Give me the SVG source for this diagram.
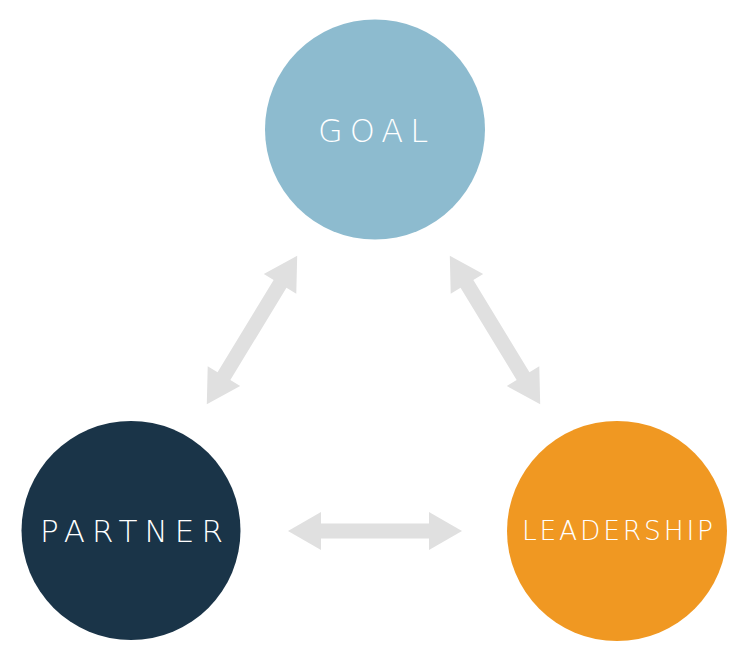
<svg xmlns="http://www.w3.org/2000/svg" xmlns:xlink="http://www.w3.org/1999/xlink" width="746" height="657" viewBox="0 0 746 657">
<style>
.lbl{font-family:"DejaVu Sans","Open Sans",sans-serif;font-weight:200;fill:#ffffff;text-anchor:start}
.arrow{fill:#e0e0e0}
</style>
<defs>
<path id="arr" d="M-87,0 L-54,-19 L-54,-7.5 L54,-7.5 L54,-19 L87,0 L54,19 L54,7.5 L-54,7.5 L-54,19 Z"/>
</defs>
<rect width="746" height="657" fill="#ffffff"/>
<g id="connectors">
<use xlink:href="#arr" href="#arr" class="arrow" transform="translate(252,330) rotate(-58.7)"/>
<use xlink:href="#arr" href="#arr" class="arrow" transform="translate(495,330) rotate(58.7)"/>
<use xlink:href="#arr" href="#arr" class="arrow" transform="translate(375,531)"/>
</g>
<g id="goal">
<circle cx="375" cy="129.5" r="110" fill="#8dbbcf"/>
<text class="lbl" x="318" y="142" font-size="32" textLength="110" lengthAdjust="spacing">GOAL</text>
</g>
<g id="partner">
<circle cx="131" cy="530.5" r="109.5" fill="#1a3448"/>
<text class="lbl" x="40" y="542" font-size="31" textLength="183" lengthAdjust="spacing">PARTNER</text>
</g>
<g id="leadership">
<circle cx="617" cy="531" r="110" fill="#f09822"/>
<text class="lbl" x="522" y="540" font-size="26.5" textLength="191" lengthAdjust="spacing">LEADERSHIP</text>
</g>
</svg>
